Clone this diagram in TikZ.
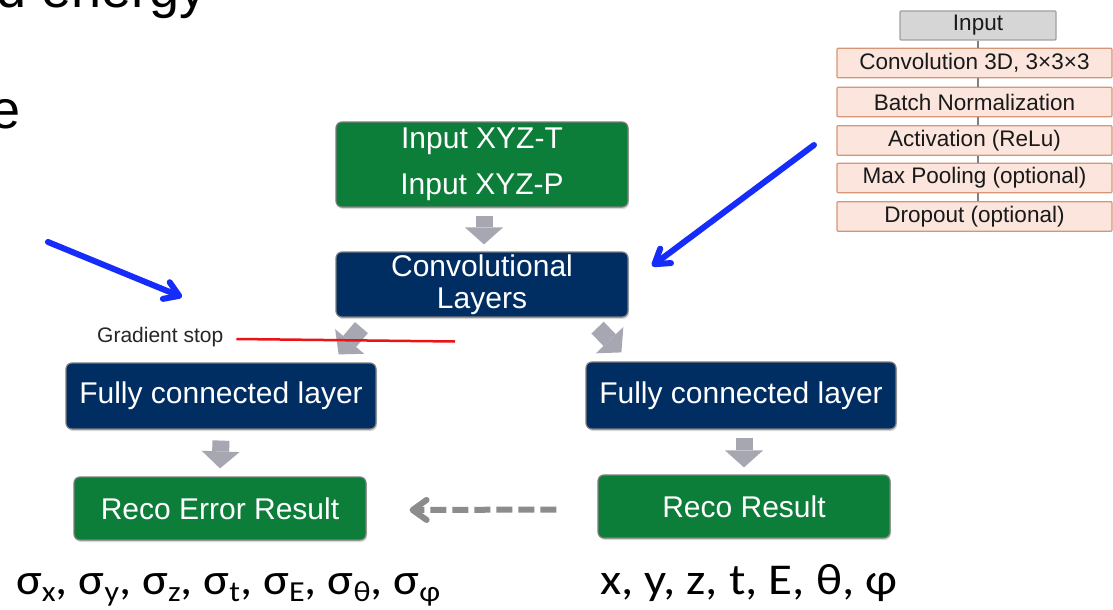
\documentclass[tikz,border=0pt]{standalone}
\usepackage{fontspec}
\usepackage{graphicx}
\setmainfont{Liberation Sans}
\newfontfamily\carl{Carlito}
\usetikzlibrary{arrows.meta,shadows,calc}
\definecolor{boxgreen}{RGB}{12,126,58}
\definecolor{boxnavy}{RGB}{0,46,99}
\definecolor{boxedge}{RGB}{125,125,125}
\definecolor{arrgray}{RGB}{167,167,178}
\definecolor{dashgray}{RGB}{140,140,140}
\definecolor{pblue}{RGB}{22,44,250}
\definecolor{gsred}{RGB}{235,20,20}
\definecolor{pinkfill}{RGB}{251,229,221}
\definecolor{pinkedge}{RGB}{214,150,118}
\definecolor{grayfill}{RGB}{214,214,214}
\definecolor{grayedge}{RGB}{160,160,160}
\newcommand\sbsc[1]{\raisebox{-7pt}{\fontsize{29}{30}\selectfont #1}}
\begin{document}
\begin{tikzpicture}[x=1pt,y=-1pt,
  flowbox/.style={draw=boxedge, line width=1.2pt, rounded corners=6pt, text=white,
    align=center, inner sep=0pt,
    drop shadow={shadow xshift=1pt, shadow yshift=-2pt, opacity=0.3}},
  greenbox/.style={flowbox, fill=boxgreen},
  navybox/.style={flowbox, fill=boxnavy},
  boxfont/.style={font=\fontsize{30}{36}\selectfont},
  stackbox/.style={draw=pinkedge, fill=pinkfill, line width=1.3pt, rounded corners=1pt,
    minimum width=275pt, minimum height=29.5pt, inner sep=0pt,
    font=\fontsize{22.5}{26}\selectfont, text=black!90},
  stackin/.style={draw=grayedge, fill=grayfill, line width=1.3pt, rounded corners=1pt,
    minimum width=156pt, minimum height=29pt, inner sep=0pt,
    font=\fontsize{22.5}{26}\selectfont, text=black!90},
  stackline/.style={draw=black!50, line width=1.3pt},
  blockarr/.style={draw=arrgray, line width=17pt,
    -{Triangle[width=38pt,length=17pt,line width=0pt]}},
  dasharr/.style={draw=dashgray, line width=6pt, dash pattern=on 16pt off 6pt,
    -{Straight Barb[length=14pt,width=20pt,round]}},
  bluearr/.style={draw=pblue, line width=6pt, line cap=round,
    -{Straight Barb[length=14pt,width=18pt,round]}},
  fragtext/.style={font=\fontsize{54}{60}\selectfont, inner sep=0pt, text=black},
  outtext/.style={font=\carl\fontsize{44}{50}\selectfont, anchor=base west, inner sep=0pt}
]
\useasboundingbox (0,0) rectangle (1113,610);
\clip (0,0) rectangle (1113,610);
\fill[white] (0,0) rectangle (1113,610);

% slide text fragments
\node[fragtext, anchor=base east] (frag1) at (207,8) {nd energy};
\node[fragtext, anchor=base east] (frag2) at (21,128) {e};

% main flow
\node[greenbox, minimum width=292pt, minimum height=85pt,
  font=\fontsize{30}{46}\selectfont] (inp) at (482,164.5) {Input XYZ-T\\Input XYZ-P};
\node[navybox, minimum width=292pt, minimum height=65pt,
  font=\fontsize{30}{31.5}\selectfont] (conv) at (482,284.5) {Convolutional\\Layers};
\node[navybox, boxfont, minimum width=310pt, minimum height=66pt] (lfc) at (221,396) {Fully connected layer};
\node[navybox, boxfont, minimum width=310pt, minimum height=67pt] (rfc) at (741,395.5) {Fully connected layer};
\node[greenbox, boxfont, minimum width=292pt, minimum height=63pt] (re) at (220,508.5) {Reco Error Result};
\node[greenbox, boxfont, minimum width=292pt, minimum height=63pt] (rr) at (744,506.5) {Reco Result};

\draw[blockarr] ([yshift=-8pt,xshift=2pt]inp.south) -- ([yshift=7pt,xshift=2pt]conv.north);
\draw[blockarr] ($(conv.south west)+(26,10)$) -- ($(lfc.north east)+(-38,-8)$);
\draw[blockarr] ($(conv.south east)+(-31,10)$) -- ($(rfc.north west)+(36,-9)$);
\draw[blockarr] ([yshift=-11pt]lfc.south) -- ([yshift=8pt]re.south |- re.north);
\draw[blockarr] ([yshift=-8pt,xshift=3pt]rfc.south) -- ([yshift=7pt,xshift=3pt]rfc.south |- rr.north);

% dashed feedback arrow
\draw[dasharr] ([xshift=-41pt,yshift=-3pt]rr.west) -- ([xshift=43pt,yshift=-1.5pt]re.east);

% gradient stop
\node[font=\fontsize{21}{24}\selectfont, text=black!85, inner sep=0pt, anchor=west] (gs) at (97,337) {Gradient stop};
\coordinate (gsend) at (455,341.5);
\draw[gsred, line width=2.5pt] ($(gs.east)+(13,2)$) -- (gsend);

% layer stack
\node[stackin] (s0) at (978,25.5) {Input};
\node[stackbox] (s1) at (974.5,63) {Convolution 3D, 3×3×3};
\node[stackbox] (s2) at (974.5,102) {Batch Normalization};
\node[stackbox] (s3) at (974.5,140.5) {Activation (ReLu)};
\node[stackbox] (s4) at (974.5,178) {Max Pooling (optional)};
\node[stackbox] (s5) at (974.5,216.5) {Dropout (optional)};
\draw[stackline] (s0.south) -- (s0.south |- s1.north);
\draw[stackline] (s0.south |- s1.south) -- (s0.south |- s2.north);
\draw[stackline] (s0.south |- s2.south) -- (s0.south |- s3.north);
\draw[stackline] (s0.south |- s3.south) -- (s0.south |- s4.north);
\draw[stackline] (s0.south |- s4.south) -- (s0.south |- s5.north);

% blue pointer arrows
\coordinate (bl0) at (48,242);
\coordinate (bl1) at (182,297);
\coordinate (br0) at (814,145);
\coordinate (br1) at (652,266);
\draw[bluearr] (bl0) -- (bl1);
\draw[bluearr] (br0) -- (br1);

% output variables
\node[outtext] (sig) at (16,594)
  {\resizebox{424pt}{\height}{σ\sbsc{x}, σ\sbsc{y}, σ\sbsc{z}, σ\sbsc{t}, σ\sbsc{E}, σ\sbsc{θ}, σ\sbsc{φ}}};
\node[outtext] (vars) at (600,594)
  {\resizebox{297pt}{\height}{x, y, z, t, E, θ, φ}};
\end{tikzpicture}
\end{document}
